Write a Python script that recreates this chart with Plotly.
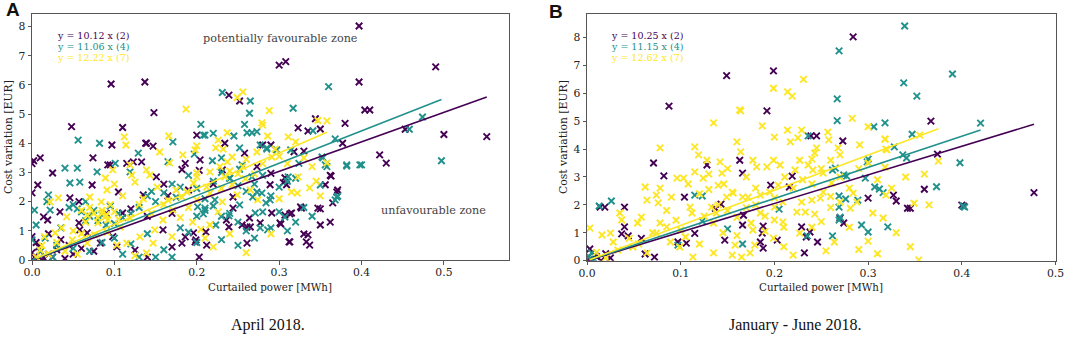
import plotly.graph_objects as go

# ---------------- data ----------------
PURPLE = "#440154"
TEAL = "#21918c"
YELLOW = "#fde725"

A_SLOPES = [10.12, 11.06, 12.22]
B_SLOPES = [10.25, 11.15, 12.62]
SERIES_TAGS = ["(2)", "(4)", "(7)"]
X_TICKS = [0.0, 0.1, 0.2, 0.3, 0.4, 0.5]
X_TICK_LABELS = ["0.0", "0.1", "0.2", "0.3", "0.4", "0.5"]
Y_TICKS = [0, 1, 2, 3, 4, 5, 6, 7, 8]

A_PURPLE = [
    (0.096, 6.03), (0.137, 6.1), (0.148, 5.05), (0.048, 4.57), (0.11, 4.54), (0.30, 6.68), (0.308, 6.8),
    (0.397, 8.02), (0.397, 6.1), (0.239, 5.65), (0.252, 5.45), (0.344, 4.84), (0.38, 4.68), (0.323, 4.53),
    (0.35, 4.49), (0.404, 5.14), (0.41, 5.14), (0.49, 6.62), (0.5, 4.3), (0.552, 4.23), (0.453, 4.48),
    (0.422, 3.6), (0.43, 3.32), (0.0, 3.3), (0.002, 3.4), (0.01, 3.5), (0.007, 2.57), (0.025, 2.98),
    (0.073, 2.57), (0.074, 3.5), (0.092, 3.26), (0.097, 3.94), (0.115, 3.31), (0.123, 3.36), (0.133, 3.36),
    (0.138, 4.0), (0.147, 3.9), (0.151, 2.85), (0.186, 3.31), (0.182, 3.1), (0.2, 4.28), (0.203, 3.07),
    (0.234, 4.0), (0.258, 3.66), (0.28, 3.94), (0.29, 2.97), (0.305, 2.65), (0.318, 3.71), (0.377, 4.0),
    (0.362, 2.9), (0.371, 2.4), (0.365, 1.96), (0.105, 2.33), (0.135, 2.23), (0.11, 1.61), (0.057, 2.0),
    (0.046, 2.13), (0.034, 1.65), (0.014, 1.48), (0.019, 1.37), (0.057, 1.27), (0.058, 1.03), (0.067, 0.93),
    (0.083, 0.58), (0.098, 0.8), (0.103, 0.45), (0.125, 0.34), (0.159, 1.03), (0.182, 0.58), (0.186, 0.79),
    (0.199, 0.69), (0.203, 0.1), (0.212, 0.51), (0.236, 1.37), (0.244, 1.78), (0.261, 1.13), (0.264, 1.44),
    (0.255, 1.2), (0.291, 1.61), (0.277, 1.27), (0.261, 0.58), (0.301, 1.27), (0.307, 1.54), (0.315, 1.61),
    (0.313, 0.62), (0.327, 1.78), (0.335, 0.86), (0.337, 0.51), (0.35, 1.2), (0.35, 1.75), (0.362, 1.3),
    (0.335, 4.42), (0.29, 3.94), (0.33, 3.73), (0.204, 3.43), (0.231, 3.09), (0.273, 3.2), (0.307, 2.82),
    (0.309, 2.58), (0.289, 2.58), (0.356, 2.58), (0.363, 2.88), (0.37, 2.33), (0.326, 1.82), (0.347, 1.78),
    (0.313, 1.58), (0.302, 1.23), (0.33, 0.89), (0.333, 0.62), (0.312, 0.62), (0.265, 1.13), (0.239, 1.13),
    (0.211, 0.96), (0.196, 0.93), (0.198, 0.62), (0.244, 2.16), (0.0, 0.8), (0.005, 0.6), (0.01, 0.3),
    (0.003, 0.1), (0.015, 0.05), (0.02, 0.2), (0.008, 0.45), (0.025, 0.1), (0.03, 0.35), (0.0, 0.25),
    (0.04, 0.05), (0.05, 0.2), (0.06, 0.4), (0.035, 0.7), (0.02, 0.9), (0.0, 2.3), (0.012, 0.0),
    (0.045, 0.5), (0.075, 0.3), (0.09, 1.6), (0.12, 1.75), (0.14, 1.5), (0.165, 2.2), (0.17, 1.6),
    (0.19, 2.4), (0.22, 2.6), (0.17, 0.45), (0.14, 0.1), (0.16, 2.6), (0.095, 3.26), (0.139, 4.0),
]

A_TEAL = [
    (0.231, 5.74), (0.265, 5.45), (0.264, 5.03), (0.205, 4.65), (0.258, 4.65), (0.317, 5.2), (0.36, 5.94),
    (0.40, 3.26), (0.497, 3.4), (0.474, 4.9), (0.458, 4.48), (0.003, 1.71), (0.0, 0.69), (0.005, 1.2),
    (0.016, 0.75), (0.022, 1.71), (0.018, 2.0), (0.04, 3.15), (0.056, 4.11), (0.055, 3.15), (0.046, 2.64),
    (0.058, 2.67), (0.079, 3.02), (0.082, 4.0), (0.101, 3.31), (0.119, 3.02), (0.129, 3.66), (0.165, 3.37),
    (0.171, 4.05), (0.208, 4.28), (0.22, 4.34), (0.23, 3.5), (0.273, 4.4), (0.277, 3.94), (0.285, 3.84),
    (0.297, 3.77), (0.314, 3.77), (0.324, 3.31), (0.352, 3.53), (0.356, 3.26), (0.382, 3.26), (0.398, 3.26),
    (0.368, 2.06), (0.37, 2.16), (0.35, 2.57), (0.02, 2.23), (0.05, 1.9), (0.055, 1.75), (0.06, 1.65),
    (0.045, 1.8), (0.065, 2.0), (0.07, 1.5), (0.075, 1.7), (0.08, 1.35), (0.09, 1.2), (0.1, 1.25),
    (0.11, 1.45), (0.12, 1.6), (0.13, 1.8), (0.14, 2.2), (0.145, 2.35), (0.15, 2.0), (0.16, 2.3),
    (0.17, 2.6), (0.175, 2.15), (0.18, 2.5), (0.19, 2.9), (0.2, 2.45), (0.21, 2.1), (0.22, 2.7),
    (0.23, 3.0), (0.24, 2.8), (0.25, 2.55), (0.26, 2.35), (0.27, 2.6), (0.28, 2.9), (0.29, 2.2),
    (0.3, 2.5), (0.31, 2.7), (0.32, 2.8), (0.03, 0.5), (0.05, 0.4), (0.07, 0.3), (0.085, 0.6),
    (0.1, 0.75), (0.11, 0.2), (0.12, 0.55), (0.14, 0.9), (0.15, 0.1), (0.16, 0.35), (0.18, 1.1),
    (0.19, 0.95), (0.2, 1.5), (0.21, 1.7), (0.22, 1.85), (0.23, 1.5), (0.24, 1.6), (0.25, 1.3),
    (0.26, 1.0), (0.27, 0.75), (0.28, 1.65), (0.29, 1.1), (0.3, 1.65), (0.31, 1.0), (0.32, 1.3),
    (0.33, 1.8), (0.34, 1.5), (0.25, 0.5), (0.23, 0.7), (0.17, 0.1), (0.13, 0.1), (0.2, 0.6),
    (0.21, 4.28), (0.245, 4.25), (0.261, 4.36), (0.267, 4.36), (0.341, 4.43), (0.368, 4.15), (0.382, 3.22),
    (0.358, 3.2), (0.353, 3.5), (0.197, 3.63), (0.219, 3.4), (0.252, 3.84), (0.285, 3.8), (0.252, 3.11),
    (0.267, 2.85), (0.24, 2.8), (0.311, 2.85), (0.371, 2.19), (0.268, 2.16), (0.279, 2.29), (0.273, 2.33),
    (0.289, 2.06), (0.252, 1.89), (0.239, 1.51), (0.271, 1.61), (0.284, 1.96), (0.307, 1.47), (0.277, 1.1),
    (0.286, 1.03), (0.223, 1.2), (0.208, 1.58), (0.201, 1.82), (0.222, 2.06), (0.255, 3.26), (0.21, 1.78),
    (0.085, 1.55), (0.095, 1.85), (0.105, 1.6), (0.065, 1.35), (0.035, 1.1), (0.01, 0.3), (0.025, 0.1),
]

A_YELLOW = [
    (0.187, 5.17), (0.249, 5.57), (0.256, 5.76), (0.288, 5.12), (0.279, 4.7), (0.28, 4.62), (0.347, 4.78),
    (0.358, 4.77), (0.237, 4.36), (0.226, 4.11), (0.2, 3.91), (0.223, 3.84), (0.232, 3.8), (0.286, 4.25),
    (0.311, 4.22), (0.273, 3.7), (0.291, 3.53), (0.295, 3.8), (0.243, 3.53), (0.237, 3.36), (0.228, 3.2),
    (0.256, 3.2), (0.216, 3.02), (0.2, 2.85), (0.234, 2.85), (0.259, 2.78), (0.323, 2.85), (0.337, 2.47),
    (0.322, 2.29), (0.315, 2.33), (0.358, 3.33), (0.216, 2.29), (0.243, 2.58), (0.249, 2.23), (0.231, 1.99),
    (0.226, 1.65), (0.274, 2.06), (0.216, 1.2), (0.2, 2.06), (0.212, 2.5), (0.112, 4.22), (0.114, 3.94),
    (0.166, 4.25), (0.155, 3.7), (0.139, 3.09), (0.119, 3.26), (0.121, 2.91), (0.125, 2.67), (0.098, 3.09),
    (0.089, 2.81), (0.07, 2.16), (0.084, 1.99), (0.089, 1.48), (0.085, 1.61), (0.092, 1.37), (0.08, 1.27),
    (0.067, 1.54), (0.042, 1.48), (0.036, 1.1), (0.028, 0.93), (0.032, 2.13), (0.022, 1.99), (0.01, 0.34),
    (0.049, 0.69), (0.067, 0.58), (0.076, 0.86), (0.091, 0.96), (0.107, 1.13), (0.119, 1.44), (0.103, 0.51),
    (0.115, 0.58), (0.131, 0.79), (0.147, 0.58), (0.139, 0.24), (0.149, 1.03), (0.159, 1.37), (0.171, 1.71),
    (0.182, 2.16), (0.188, 2.33), (0.196, 2.64), (0.152, 2.5), (0.143, 2.91), (0.167, 3.33), (0.183, 3.6),
    (0.198, 3.77), (0.2, 2.98), (0.091, 2.4), (0.07, 1.8), (0.075, 1.6), (0.08, 1.45), (0.085, 1.7),
    (0.09, 1.55), (0.095, 1.9), (0.1, 1.65), (0.065, 1.3), (0.06, 1.7), (0.105, 1.4), (0.005, 0.1),
    (0.012, 0.5), (0.02, 0.2), (0.03, 0.6), (0.04, 0.3), (0.015, 0.8), (0.055, 0.2), (0.05, 1.0),
    (0.13, 1.9), (0.135, 2.1), (0.145, 1.6), (0.16, 1.9), (0.165, 2.05), (0.175, 2.4), (0.18, 1.45),
    (0.19, 1.8), (0.195, 1.3), (0.205, 1.05), (0.21, 0.75), (0.22, 0.45), (0.23, 2.45), (0.24, 3.05),
    (0.25, 2.95), (0.26, 3.45), (0.265, 2.4), (0.27, 2.95), (0.28, 3.3), (0.3, 3.55), (0.31, 3.3),
    (0.32, 4.05), (0.33, 3.5), (0.34, 3.2), (0.345, 2.7), (0.35, 2.2), (0.24, 0.9), (0.26, 0.25),
    (0.29, 0.9), (0.3, 2.1), (0.17, 0.8), (0.125, 0.15), (0.1, 2.6), (0.11, 2.2), (0.06, 0.9),
]

B_PURPLE = [
    (0.0875, 5.54), (0.149, 6.63), (0.199, 6.8), (0.192, 5.37), (0.284, 8.02), (0.367, 5.0), (0.374, 3.82),
    (0.36, 2.56), (0.327, 2.35), (0.33, 2.14), (0.345, 1.88), (0.40, 1.99), (0.477, 2.44), (0.003, 0.42),
    (0.014, 1.92), (0.019, 1.92), (0.04, 1.92), (0.04, 1.21), (0.037, 0.96), (0.044, 0.89), (0.071, 3.5),
    (0.082, 3.04), (0.058, 0.8), (0.062, 0.24), (0.072, 0.13), (0.097, 0.67), (0.106, 0.63), (0.104, 2.28),
    (0.115, 0.98), (0.128, 3.43), (0.137, 1.88), (0.143, 2.03), (0.147, 0.74), (0.166, 3.14), (0.163, 3.6),
    (0.166, 1.28), (0.0, 0.1), (0.005, 0.05), (0.01, 0.15), (0.015, 0.0), (0.02, 0.25), (0.008, 0.2),
    (0.025, 0.1), (0.239, 4.47), (0.273, 4.29), (0.219, 3.03), (0.216, 2.64), (0.196, 2.71), (0.3, 2.24),
    (0.342, 1.88), (0.27, 1.53), (0.274, 1.35), (0.188, 1.24), (0.187, 0.99), (0.229, 1.21), (0.238, 1.03),
    (0.234, 0.85), (0.246, 0.67), (0.203, 0.74), (0.185, 0.67), (0.188, 0.45), (0.232, 0.28), (0.167, 1.63),
    (0.245, 4.47), (0.402, 1.95),
]

B_TEAL = [
    (0.269, 7.52), (0.339, 8.41), (0.338, 6.37), (0.352, 5.9), (0.267, 5.8), (0.267, 5.02), (0.306, 4.8),
    (0.318, 4.94), (0.39, 6.69), (0.42, 4.93), (0.347, 4.53), (0.328, 4.08), (0.337, 3.79), (0.341, 3.68),
    (0.398, 3.51), (0.373, 2.65), (0.316, 2.44), (0.401, 1.96), (0.403, 1.92), (0.321, 1.21), (0.013, 1.96),
    (0.026, 2.14), (0.005, 0.28), (0.097, 0.56), (0.115, 2.35), (0.123, 2.32), (0.123, 1.42), (0.15, 1.14),
    (0.166, 0.6), (0.236, 4.47), (0.3, 3.64), (0.299, 3.54), (0.262, 3.25), (0.265, 3.32), (0.274, 3.07),
    (0.277, 3.03), (0.297, 2.96), (0.307, 2.64), (0.312, 2.57), (0.269, 2.32), (0.276, 2.21), (0.289, 2.17),
    (0.269, 1.92), (0.27, 1.56), (0.269, 1.46), (0.293, 1.28), (0.3, 1.03), (0.262, 0.89), (0.235, 0.89),
    (0.205, 1.85), (0.008, 0.05), (0.002, 0.15),
]

B_YELLOW = [
    (0.135, 4.94), (0.164, 5.37), (0.199, 6.18), (0.214, 6.05), (0.219, 5.9), (0.231, 6.5), (0.187, 4.83),
    (0.283, 5.1), (0.318, 4.35), (0.319, 4.0), (0.375, 3.57), (0.318, 3.35), (0.349, 2.06), (0.319, 2.35),
    (0.354, 0.03), (0.2, 4.43), (0.214, 4.68), (0.229, 4.68), (0.217, 4.26), (0.225, 4.4), (0.257, 4.61),
    (0.258, 4.33), (0.245, 4.04), (0.243, 3.86), (0.24, 3.64), (0.236, 3.43), (0.222, 3.25), (0.211, 3.0),
    (0.204, 2.71), (0.195, 2.46), (0.185, 2.35), (0.172, 2.28), (0.177, 3.6), (0.181, 3.36), (0.192, 3.36),
    (0.199, 3.6), (0.206, 3.43), (0.227, 3.6), (0.241, 3.25), (0.252, 3.14), (0.268, 4.04), (0.27, 3.79),
    (0.291, 4.15), (0.318, 4.36), (0.32, 3.97), (0.261, 2.78), (0.252, 2.46), (0.249, 2.24), (0.24, 2.17),
    (0.229, 2.1), (0.224, 1.74), (0.233, 1.74), (0.243, 1.67), (0.209, 2.1), (0.2, 1.92), (0.2, 1.46),
    (0.209, 1.39), (0.185, 1.71), (0.177, 1.1), (0.199, 0.81), (0.179, 0.56), (0.174, 0.28), (0.227, 0.99),
    (0.264, 0.67), (0.281, 1.88), (0.284, 2.42), (0.288, 2.1), (0.305, 1.71), (0.316, 1.53), (0.003, 1.17),
    (0.016, 0.92), (0.025, 0.99), (0.028, 0.67), (0.035, 1.71), (0.037, 1.46), (0.033, 0.38), (0.049, 0.49),
    (0.054, 1.35), (0.058, 1.56), (0.062, 2.64), (0.064, 2.17), (0.074, 2.35), (0.076, 2.07), (0.078, 2.6),
    (0.078, 4.04), (0.078, 1.35), (0.085, 1.21), (0.09, 2.28), (0.096, 2.96), (0.103, 2.96), (0.108, 2.75),
    (0.11, 1.92), (0.112, 1.71), (0.115, 3.18), (0.115, 4.08), (0.119, 3.79), (0.124, 2.96), (0.128, 3.6),
    (0.133, 1.92), (0.135, 1.35), (0.138, 1.71), (0.142, 3.54), (0.144, 3.14), (0.146, 2.75), (0.149, 2.28),
    (0.155, 2.46), (0.156, 2.42), (0.163, 5.4), (0.16, 4.26), (0.164, 3.9), (0.166, 2.28), (0.135, 0.28),
    (0.113, 0.13), (0.099, 0.49), (0.089, 0.67), (0.074, 0.99), (0.155, 0.2), (0.165, 0.13), (0.158, 0.56),
    (0.064, 0.28), (0.3, 3.5), (0.31, 2.9), (0.325, 2.6), (0.34, 3.0), (0.355, 4.5), (0.36, 3.1),
    (0.365, 2.0), (0.33, 1.0), (0.345, 0.5), (0.3, 0.7), (0.31, 0.25), (0.29, 0.4), (0.28, 1.2),
    (0.26, 1.9), (0.25, 1.4), (0.255, 0.35), (0.3, 4.8), (0.12, 2.4), (0.13, 2.55), (0.14, 2.0),
    (0.15, 1.8), (0.16, 1.55), (0.17, 1.9), (0.18, 2.0), (0.19, 1.6), (0.21, 1.2), (0.22, 2.6),
    (0.23, 2.9), (0.24, 2.75), (0.25, 3.3), (0.26, 3.6), (0.27, 3.0), (0.28, 2.6), (0.29, 3.3),
    (0.1, 1.1), (0.105, 0.85), (0.12, 0.6), (0.145, 1.0), (0.16, 0.9), (0.175, 1.35), (0.19, 1.05),
    (0.21, 0.5), (0.22, 0.2), (0.24, 1.2), (0.26, 2.3), (0.27, 2.1), (0.2, 2.25), (0.18, 2.6),
    (0.17, 3.0), (0.15, 3.3), (0.14, 2.7), (0.13, 3.1), (0.125, 1.6), (0.095, 1.45), (0.085, 1.8),
    (0.07, 1.0), (0.045, 0.8), (0.01, 0.3), (0.02, 0.1), (0.055, 0.6),
]

# ---------------- figure ----------------
W, H = 1065, 339
fig = go.Figure()

panels = [
    ("x", "y", [A_PURPLE, A_TEAL, A_YELLOW], A_SLOPES),
    ("x2", "y2", [B_PURPLE, B_TEAL, B_YELLOW], B_SLOPES),
]
colors = [PURPLE, TEAL, YELLOW]

for xa, ya, series, slopes in panels:
    for pts, col in zip(series, colors):
        xs = [p[0] for p in pts]
        ys = [p[1] for p in pts]
        fig.add_trace(go.Scatter(
            x=xs, y=ys, xaxis=xa, yaxis=ya, mode="markers", showlegend=False, cliponaxis=True,
            marker=dict(symbol="x-thin", size=6.5, color=col, line=dict(width=1.9, color=col)),
        ))
    for pts, col, k in zip(series, colors, slopes):
        xs = [p[0] for p in pts]
        lx = [min(xs), max(xs)]
        fig.add_trace(go.Scatter(
            x=lx, y=[k * v for v in lx], xaxis=xa, yaxis=ya, mode="lines", showlegend=False,
            line=dict(color=col, width=1.6),
        ))

TICK_FONT = dict(family="DejaVu Serif", size=10.8, color="#222")
axis_common = dict(
    showgrid=False, zeroline=False, showline=True, mirror=True, linecolor="#555", linewidth=1,
    ticks="outside", ticklen=3.5, tickcolor="#555", tickfont=TICK_FONT, automargin=False,
)

def px2x(px):
    return px / W

def px2y(py):
    return 1 - py / H

fig.update_layout(
    width=W, height=H, margin=dict(l=0, r=0, t=0, b=0, pad=0),
    paper_bgcolor="white", plot_bgcolor="white",
    xaxis=dict(domain=[px2x(32), px2x(509)], range=[0, 0.579], tickvals=X_TICKS, ticktext=X_TICK_LABELS,
               anchor="y", ticklabelstandoff=-1, **axis_common),
    yaxis=dict(domain=[px2y(260), px2y(14)], range=[0, 8.43], tickvals=Y_TICKS, anchor="x", **axis_common),
    xaxis2=dict(domain=[px2x(587), px2x(1056)], range=[0, 0.5005], tickvals=X_TICKS, ticktext=X_TICK_LABELS,
                anchor="y2", ticklabelstandoff=-1, **axis_common),
    yaxis2=dict(domain=[px2y(260.7), px2y(14)], range=[0, 8.84], tickvals=Y_TICKS, anchor="x2", **axis_common),
)

ann = []
def text(x, y, s, size, color="#222", family="DejaVu Serif", xanchor="center", angle=0, bold=False):
    if bold:
        s = "<b>" + s + "</b>"
    ann.append(dict(x=px2x(x), y=px2y(y), xref="paper", yref="paper", text=s, showarrow=False,
                    font=dict(family=family, size=size, color=color), xanchor=xanchor, yanchor="middle",
                    textangle=angle))

# legends with slopes
for base_x, slopes in [(55, A_SLOPES), (609, B_SLOPES)]:
    for i, (k, col, tag) in enumerate(zip(slopes, colors, SERIES_TAGS)):
        text(base_x, 35 + 11.5 * i, f"y = {k:.2f} x {tag}", 9.5, color=col, xanchor="left")

text(280, 38, "potentially favourable zone", 11.2, color="#444")
text(433, 210, "unfavourable zone", 11.2, color="#444")

# axis titles
text(270, 287, "Curtailed power [MWh]", 10.3, color="#222")
text(821, 287, "Curtailed power [MWh]", 10.3, color="#222")
text(8, 137, "Cost variation [EUR]", 10.8, color="#222", angle=-90)
text(563, 137, "Cost variation [EUR]", 10.8, color="#222", angle=-90)

# captions
text(268, 325, "April 2018.", 16, color="#111", family="Liberation Serif")
text(795, 325, "January - June 2018.", 16, color="#111", family="Liberation Serif")

# panel letters
text(13, 10, "A", 19, color="#111", family="Liberation Sans", bold=True)
text(556, 11, "B", 19, color="#111", family="Liberation Sans", bold=True)

fig.update_layout(annotations=ann)
fig.write_html(
    "out.html",
    config={"displayModeBar": False},
    post_script="document.body.style.margin='0';document.body.style.overflow='hidden';",
)
